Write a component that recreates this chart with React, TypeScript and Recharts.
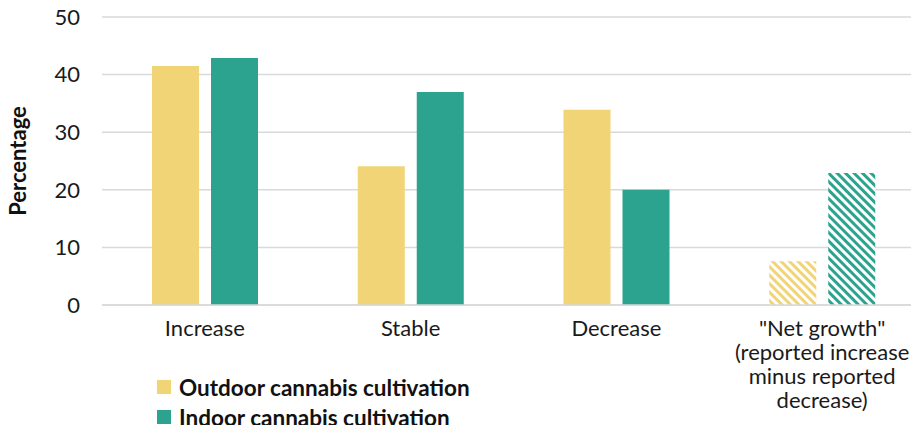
import { BarChart, Bar, XAxis, YAxis, CartesianGrid, Cell } from 'recharts';

const categories = ['Increase', 'Stable', 'Decrease', '"Net growth"\n(reported increase\nminus reported\ndecrease)'];
const outdoor = [41.5, 24.1, 33.9, 7.6];
const indoor = [42.9, 37.0, 20.0, 22.9];
const yTicks = [0, 10, 20, 30, 40, 50];

const YELLOW = '#F0D475';
const TEAL = '#2BA38F';
const FONT = 'Lato, "Open Sans", sans-serif';

const data = categories.map((c, i) => ({ name: c, outdoor: outdoor[i], indoor: indoor[i] }));

const CategoryTick = (props: any) => {
  const { x, y, payload } = props;
  const lines = String(payload.value).split('\n');
  return (
    <text x={x} y={y} textAnchor="middle" fontSize={22} fill="#1a1a1a" fontFamily={FONT}>
      {lines.map((l, i) => (
        <tspan key={i} x={x} dy={i === 0 ? 23 : 24}>{l}</tspan>
      ))}
    </text>
  );
};

const legendItems = [
  ['Outdoor cannabis cultivation', YELLOW],
  ['Indoor cannabis cultivation', TEAL],
];

export default function App() {
  return (
    <div style={{ margin: -8, width: 919, height: 433, background: '#fff', position: 'relative', overflow: 'hidden' }}>
      <BarChart
        width={925}
        height={433}
        data={data}
        margin={{ top: 17, right: 0, left: 0, bottom: 18 }}
        barGap={12}
        barSize={47}
      >
        <defs>
          <pattern id="hatchY" patternUnits="userSpaceOnUse" width="6" height="6" patternTransform="rotate(-45)">
            <rect width="6" height="6" fill="#fff" />
            <rect width="3" height="6" fill={YELLOW} />
          </pattern>
          <pattern id="hatchT" patternUnits="userSpaceOnUse" width="6" height="6" patternTransform="rotate(-45)">
            <rect width="6" height="6" fill="#fff" />
            <rect width="3" height="6" fill={TEAL} />
          </pattern>
        </defs>
        <CartesianGrid vertical={false} stroke="#d9d9d9" strokeWidth={1.5} />
        <XAxis
          dataKey="name"
          tick={<CategoryTick />}
          tickLine={false}
          axisLine={{ stroke: '#d9d9d9', strokeWidth: 1.5 }}
          height={110}
          interval={0}
        />
        <YAxis
          domain={[0, 50]}
          ticks={yTicks}
          width={102}
          axisLine={false}
          tickLine={false}
          tickSize={0}
          tickMargin={22}
          tick={{ fontSize: 22, fill: '#1a1a1a', fontFamily: FONT }}
          label={{
            value: 'Percentage',
            angle: -90,
            position: 'insideLeft',
            offset: 18,
            style: { textAnchor: 'middle', fontSize: 22, fontWeight: 700, fill: '#111', fontFamily: FONT },
          }}
        />
        <Bar dataKey="outdoor" fill={YELLOW} isAnimationActive={false}>
          {data.map((_, i) => (
            <Cell key={i} fill={i === 3 ? 'url(#hatchY)' : YELLOW} />
          ))}
        </Bar>
        <Bar dataKey="indoor" fill={TEAL} isAnimationActive={false}>
          {data.map((_, i) => (
            <Cell key={i} fill={i === 3 ? 'url(#hatchT)' : TEAL} />
          ))}
        </Bar>
      </BarChart>
      <div
        style={{
          position: 'absolute',
          left: 157,
          top: 372,
          fontFamily: FONT,
          fontWeight: 700,
          fontSize: 22.5,
          lineHeight: '29px',
          color: '#111',
        }}
      >
        {legendItems.map(([label, col]) => (
          <div key={label} style={{ display: 'flex', alignItems: 'center', height: 30 }}>
            <span style={{ width: 14, height: 14, background: col, marginRight: 8, display: 'inline-block' }} />
            {label}
          </div>
        ))}
      </div>
    </div>
  );
}
